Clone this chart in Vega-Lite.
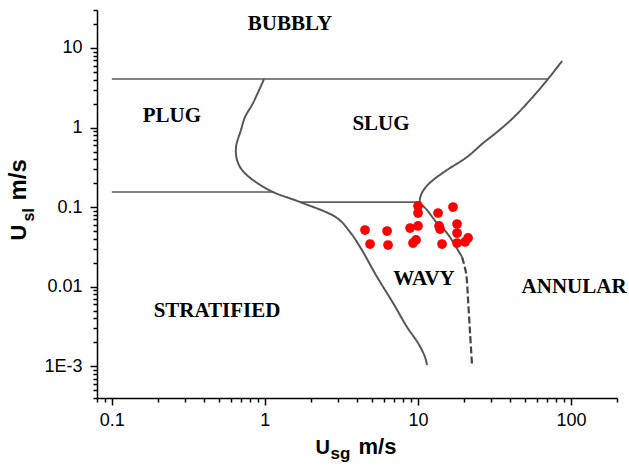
{
  "$schema": "https://vega.github.io/schema/vega-lite/v6.json",
  "width": 520,
  "height": 388,
  "autosize": {"type": "none"},
  "padding": {"left": 97, "top": 10, "right": 12, "bottom": 67},
  "background": "white",
  "config": {
    "view": {"stroke": null},
    "axis": {
      "domainColor": "black",
      "domainWidth": 1.5,
      "tickColor": "black",
      "tickWidth": 1.5,
      "labelColor": "black",
      "labelFont": "Liberation Sans",
      "labelFontSize": 18,
      "titleColor": "black",
      "titleFont": "Liberation Sans",
      "titleFontWeight": "bold",
      "grid": false
    }
  },
  "datasets": {
    "boundaries": [
      {"seg": "top", "style": "h", "i": 0, "usg": 0.1, "usl": 4.07},
      {"seg": "top", "style": "h", "i": 1, "usg": 70.8, "usl": 4.07},
      {"seg": "mid", "style": "h", "i": 0, "usg": 0.1, "usl": 0.155},
      {"seg": "mid", "style": "h", "i": 1, "usg": 1.131, "usl": 0.155},
      {"seg": "low", "style": "thick", "i": 0, "usg": 1.697, "usl": 0.116},
      {"seg": "low", "style": "thick", "i": 1, "usg": 10.33, "usl": 0.116},
      {"seg": "s", "style": "curve", "i": 0, "usg": 0.987, "usl": 4.07},
      {"seg": "s", "style": "curve", "i": 1, "usg": 0.837, "usl": 2.035},
      {"seg": "s", "style": "curve", "i": 2, "usg": 0.742, "usl": 1.357},
      {"seg": "s", "style": "curve", "i": 3, "usg": 0.698, "usl": 0.932},
      {"seg": "s", "style": "curve", "i": 4, "usg": 0.648, "usl": 0.57},
      {"seg": "s", "style": "curve", "i": 5, "usg": 0.658, "usl": 0.391},
      {"seg": "s", "style": "curve", "i": 6, "usg": 0.709, "usl": 0.293},
      {"seg": "s", "style": "curve", "i": 7, "usg": 0.837, "usl": 0.219},
      {"seg": "s", "style": "curve", "i": 8, "usg": 1.131, "usl": 0.155},
      {"seg": "s", "style": "curve", "i": 9, "usg": 1.697, "usl": 0.116},
      {"seg": "s", "style": "curve", "i": 10, "usg": 2.961, "usl": 0.0731},
      {"seg": "s", "style": "curve", "i": 11, "usg": 3.6, "usl": 0.0487},
      {"seg": "s", "style": "curve", "i": 12, "usg": 4.19, "usl": 0.0316},
      {"seg": "s", "style": "curve", "i": 13, "usg": 5.41, "usl": 0.01326},
      {"seg": "s", "style": "curve", "i": 14, "usg": 6.88, "usl": 0.00625},
      {"seg": "s", "style": "curve", "i": 15, "usg": 8.49, "usl": 0.00312},
      {"seg": "s", "style": "curve", "i": 16, "usg": 10.02, "usl": 0.00196},
      {"seg": "s", "style": "curve", "i": 17, "usg": 11.13, "usl": 0.00131},
      {"seg": "s", "style": "curve", "i": 18, "usg": 11.47, "usl": 0.00104},
      {"seg": "b", "style": "curve", "i": 0, "usg": 87.5, "usl": 6.86},
      {"seg": "b", "style": "curve", "i": 1, "usg": 70.8, "usl": 4.07},
      {"seg": "b", "style": "curve", "i": 2, "usg": 54.1, "usl": 2.22},
      {"seg": "b", "style": "curve", "i": 3, "usg": 41.8, "usl": 1.318},
      {"seg": "b", "style": "curve", "i": 4, "usg": 32.9, "usl": 0.879},
      {"seg": "b", "style": "curve", "i": 5, "usg": 26.7, "usl": 0.64},
      {"seg": "b", "style": "curve", "i": 6, "usg": 20.95, "usl": 0.427},
      {"seg": "b", "style": "curve", "i": 7, "usg": 15.5, "usl": 0.293},
      {"seg": "b", "style": "curve", "i": 8, "usg": 12.56, "usl": 0.219},
      {"seg": "b", "style": "curve", "i": 9, "usg": 11.13, "usl": 0.174},
      {"seg": "b", "style": "curve", "i": 10, "usg": 10.48, "usl": 0.142},
      {"seg": "b", "style": "curve", "i": 11, "usg": 10.33, "usl": 0.116},
      {"seg": "b", "style": "curve", "i": 12, "usg": 11.47, "usl": 0.0921},
      {"seg": "b", "style": "curve", "i": 13, "usg": 13.34, "usl": 0.0632},
      {"seg": "b", "style": "curve", "i": 14, "usg": 15.5, "usl": 0.0473},
      {"seg": "b", "style": "curve", "i": 15, "usg": 16.96, "usl": 0.0365},
      {"seg": "b", "style": "curve", "i": 16, "usg": 19.43, "usl": 0.0236},
      {"seg": "d", "style": "dash", "i": 0, "usg": 19.43, "usl": 0.0236},
      {"seg": "d", "style": "dash", "i": 1, "usg": 20.63, "usl": 0.01488},
      {"seg": "d", "style": "dash", "i": 2, "usg": 21.27, "usl": 0.00681},
      {"seg": "d", "style": "dash", "i": 3, "usg": 21.92, "usl": 0.00262},
      {"seg": "d", "style": "dash", "i": 4, "usg": 22.58, "usl": 0.00104}
    ],
    "measurements": [
      {"usg": 4.51, "usl": 0.0516},
      {"usg": 4.87, "usl": 0.0344},
      {"usg": 6.29, "usl": 0.0501},
      {"usg": 6.38, "usl": 0.0334},
      {"usg": 8.89, "usl": 0.0547},
      {"usg": 10.02, "usl": 0.058},
      {"usg": 9.29, "usl": 0.0354},
      {"usg": 9.72, "usl": 0.0387},
      {"usg": 10.02, "usl": 0.1034},
      {"usg": 10.02, "usl": 0.0844},
      {"usg": 13.54, "usl": 0.0844},
      {"usg": 16.96, "usl": 0.1004},
      {"usg": 13.75, "usl": 0.058},
      {"usg": 13.95, "usl": 0.0531},
      {"usg": 14.38, "usl": 0.0344},
      {"usg": 18.02, "usl": 0.0614},
      {"usg": 18.02, "usl": 0.0473},
      {"usg": 18.02, "usl": 0.0354},
      {"usg": 20.32, "usl": 0.0365},
      {"usg": 21.27, "usl": 0.041}
    ],
    "regimes": [
      {"name": "BUBBLY", "usg": 1.46, "usl": 20.0},
      {"name": "PLUG", "usg": 0.247, "usl": 1.397},
      {"name": "SLUG", "usg": 5.74, "usl": 1.108},
      {"name": "WAVY", "usg": 10.96, "usl": 0.0125},
      {"name": "ANNULAR", "usg": 104.8, "usl": 0.00992},
      {"name": "STRATIFIED", "usg": 0.487, "usl": 0.00495}
    ]
  },
  "layer": [
    {
      "data": {"name": "boundaries"},
      "mark": {"type": "line", "interpolate": "catmull-rom"},
      "encoding": {
        "x": {
          "field": "usg",
          "type": "quantitative",
          "scale": {"type": "log", "domain": [0.08, 200], "nice": false},
          "axis": {
            "orient": "bottom",
            "values": [0.08, 0.09, 0.1, 0.2, 0.3, 0.4, 0.5, 0.6, 0.7, 0.8, 0.9, 1, 2, 3, 4, 5, 6, 7, 8, 9, 10, 20, 30, 40, 50, 60, 70, 80, 90, 100, 200],
            "labelExpr": "abs(log(datum.value)/LN10 - round(log(datum.value)/LN10)) < 1e-6 ? format(datum.value, '~g') : ''",
            "tickSize": {"condition": {"test": "abs(log(datum.value)/LN10 - round(log(datum.value)/LN10)) < 1e-6", "value": 7}, "value": 4},
            "labelPadding": 6,
            "labelFlush": false,
            "labelOverlap": false,
            "title": "U",
            "titleFontSize": 20,
            "titleAlign": "left",
            "titleBaseline": "alphabetic",
            "titleX": 218,
            "titleY": 55
          }
        },
        "y": {
          "field": "usl",
          "type": "quantitative",
          "scale": {"type": "log", "domain": [0.0004, 30], "nice": false},
          "axis": {
            "orient": "left",
            "values": [0.0004, 0.0005, 0.0006, 0.0007, 0.0008, 0.0009, 0.001, 0.002, 0.003, 0.004, 0.005, 0.006, 0.007, 0.008, 0.009, 0.01, 0.02, 0.03, 0.04, 0.05, 0.06, 0.07, 0.08, 0.09, 0.1, 0.2, 0.3, 0.4, 0.5, 0.6, 0.7, 0.8, 0.9, 1, 2, 3, 4, 5, 6, 7, 8, 9, 10, 20, 30],
            "labelExpr": "abs(log(datum.value)/LN10 - round(log(datum.value)/LN10)) < 1e-6 ? (datum.value < 0.002 ? '1E-3' : format(datum.value, '~g')) : ''",
            "tickSize": {"condition": {"test": "abs(log(datum.value)/LN10 - round(log(datum.value)/LN10)) < 1e-6", "value": 7}, "value": 4},
            "labelPadding": 8,
            "labelFlush": false,
            "labelOverlap": false,
            "title": "U",
            "titleFontSize": 22,
            "titleAngle": -90,
            "titleAlign": "left",
            "titleBaseline": "alphabetic",
            "titleX": -72,
            "titleY": 230
          }
        },
        "detail": {"field": "seg"},
        "order": {"field": "i", "type": "quantitative"},
        "strokeDash": {
          "field": "style",
          "type": "nominal",
          "scale": {"domain": ["h", "thick", "curve", "dash"], "range": [[1, 0], [1, 0], [1, 0], [7, 3]]},
          "legend": null
        },
        "strokeWidth": {
          "field": "style",
          "type": "nominal",
          "scale": {"domain": ["h", "thick", "curve", "dash"], "range": [1.5, 2.2, 0.9, 1.1]},
          "legend": null
        },
        "color": {
          "field": "style",
          "type": "nominal",
          "scale": {"domain": ["h", "thick", "curve", "dash"], "range": ["#5a5a5a", "#606060", "#555555", "#444444"]},
          "legend": null
        }
      }
    },
    {
      "data": {"name": "measurements"},
      "mark": {"type": "circle", "color": "#ff0000", "opacity": 1, "size": 95},
      "encoding": {
        "x": {
          "field": "usg",
          "type": "quantitative",
          "scale": {"type": "log", "domain": [0.08, 200], "nice": false},
          "axis": {
            "orient": "bottom",
            "domain": false,
            "ticks": false,
            "labels": false,
            "title": "sg",
            "titleFontSize": 17,
            "titleAlign": "left",
            "titleBaseline": "alphabetic",
            "titleX": 233,
            "titleY": 60
          }
        },
        "y": {
          "field": "usl",
          "type": "quantitative",
          "scale": {"type": "log", "domain": [0.0004, 30], "nice": false},
          "axis": {
            "orient": "left",
            "domain": false,
            "ticks": false,
            "labels": false,
            "title": "sl",
            "titleFontSize": 16,
            "titleAngle": -90,
            "titleAlign": "left",
            "titleBaseline": "alphabetic",
            "titleX": -64,
            "titleY": 211
          }
        }
      }
    },
    {
      "data": {"name": "regimes"},
      "mark": {"type": "text", "font": "Liberation Serif", "fontWeight": "bold", "fontSize": 21, "color": "black", "align": "center", "baseline": "middle"},
      "encoding": {
        "x": {
          "field": "usg",
          "type": "quantitative",
          "scale": {"type": "log", "domain": [0.08, 200], "nice": false},
          "axis": {
            "orient": "bottom",
            "domain": false,
            "ticks": false,
            "labels": false,
            "title": "m/s",
            "titleFontSize": 22,
            "titleAlign": "left",
            "titleBaseline": "alphabetic",
            "titleX": 261,
            "titleY": 55
          }
        },
        "y": {
          "field": "usl",
          "type": "quantitative",
          "scale": {"type": "log", "domain": [0.0004, 30], "nice": false},
          "axis": {
            "orient": "left",
            "domain": false,
            "ticks": false,
            "labels": false,
            "title": "m/s",
            "titleFontSize": 24,
            "titleAngle": -90,
            "titleAlign": "left",
            "titleBaseline": "alphabetic",
            "titleX": -72,
            "titleY": 190
          }
        },
        "text": {"field": "name"}
      }
    }
  ],
  "resolve": {"axis": {"x": "independent", "y": "independent"}}
}
